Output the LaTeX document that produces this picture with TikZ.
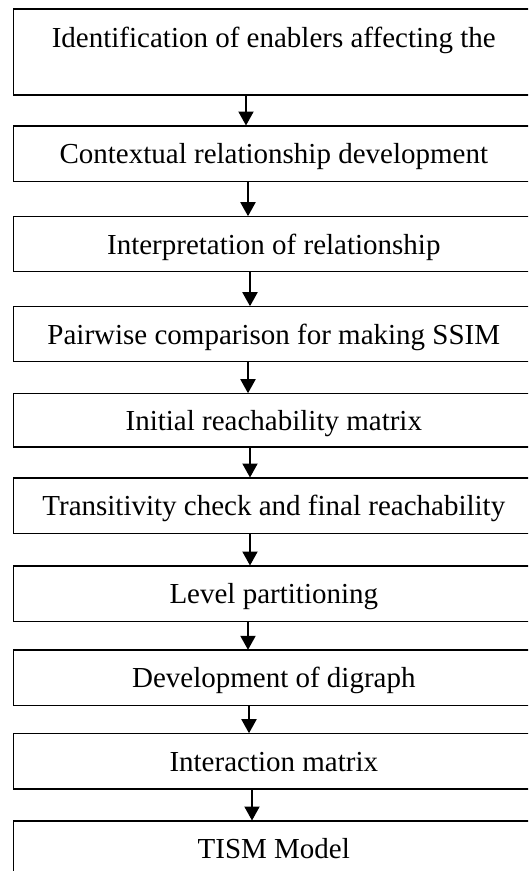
\documentclass[tikz,border=0pt]{standalone}
\usepackage{fontspec}
\setmainfont{Liberation Serif}
\usetikzlibrary{arrows.meta}

\tikzset{
  stepbox/.style={draw=black, line width=1.6pt, rectangle, anchor=north west,
    minimum width=521pt, inner sep=0pt, text height=20pt, text depth=0pt,
    font=\fontsize{29}{33}\selectfont},
  flow/.style={draw=black, line width=2pt,
    -{Triangle[width=15pt,length=14pt]}, shorten >=-0.5pt}
}

\begin{document}
\begin{tikzpicture}[x=1pt,y=-1pt]
  \useasboundingbox (0,0) rectangle (528,871);
  \clip (0,0) rectangle (528,871);

  % process steps, top to bottom
  \node[stepbox, minimum height=86pt, text height=19pt, text depth=28pt] (b1) at (12.5,8.3)
    {Identification of enablers affecting the};
  \node[stepbox, minimum height=55.7pt] (b2) at (12.5,125)   {Contextual relationship development};
  \node[stepbox, minimum height=55pt]   (b3) at (12.5,215.7) {Interpretation of relationship};
  \node[stepbox, minimum height=55pt]   (b4) at (12.5,305.7) {Pairwise comparison for making SSIM};
  \node[stepbox, minimum height=53.3pt] (b5) at (12.5,392.7) {Initial reachability matrix};
  \node[stepbox, minimum height=55.7pt] (b6) at (12.5,477)   {Transitivity check and final reachability};
  \node[stepbox, minimum height=55.7pt] (b7) at (12.5,565)   {Level partitioning};
  \node[stepbox, minimum height=55.2pt] (b8) at (12.5,649.3) {Development of digraph};
  \node[stepbox, minimum height=55.3pt] (b9) at (12.5,732.7) {Interaction matrix};
  \node[stepbox, minimum height=55pt]   (b10) at (12.5,820)  {TISM Model};

  % connectors between consecutive steps
  \draw[flow] (b1.south -| 246,0) -- (b2.north -| 246,0);
  \draw[flow] (b2.south -| 248,0) -- (b3.north -| 248,0);
  \draw[flow] (b3.south -| 250,0) -- (b4.north -| 250,0);
  \draw[flow] (b4.south -| 248,0) -- (b5.north -| 248,0);
  \draw[flow] (b5.south -| 250,0) -- (b6.north -| 250,0);
  \draw[flow] (b6.south -| 250,0) -- (b7.north -| 250,0);
  \draw[flow] (b7.south -| 248,0) -- (b8.north -| 248,0);
  \draw[flow] (b8.south -| 249,0) -- (b9.north -| 249,0);
  \draw[flow] (b9.south -| 252,0) -- (b10.north -| 252,0);
\end{tikzpicture}
\end{document}
